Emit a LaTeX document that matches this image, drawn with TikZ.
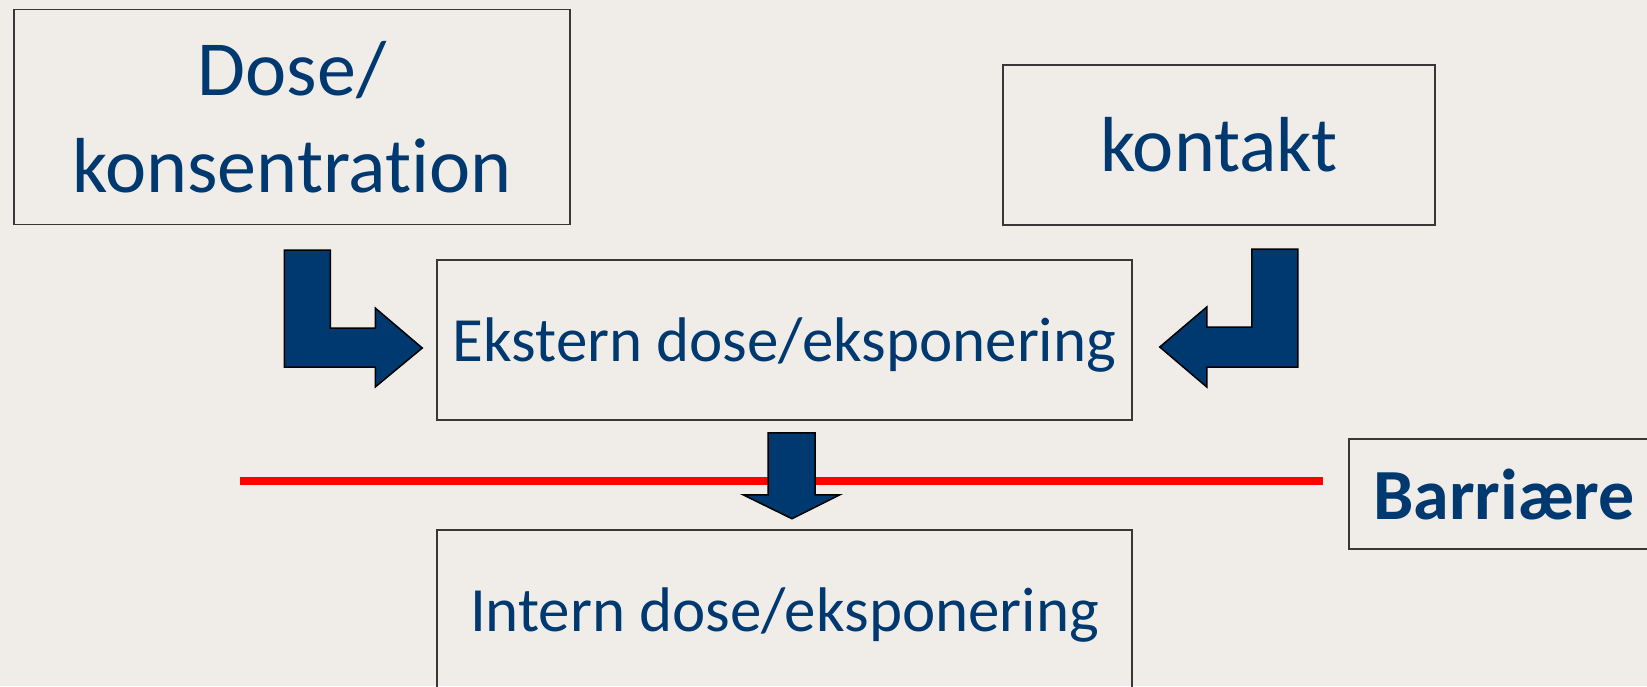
\documentclass[tikz,border=0pt]{standalone}
\usepackage{fontspec}
\setmainfont{Carlito}[Ligatures=NoCommon]
\usetikzlibrary{calc}
\definecolor{dkblue}{RGB}{0,56,112}
\definecolor{paper}{RGB}{240,237,232}
\definecolor{frame}{RGB}{55,55,55}
\tikzstyle{box} = [rectangle, draw=frame, line width=1.5pt, text=dkblue, align=center, inner sep=0pt]
\tikzstyle{blockarrow} = [fill=dkblue, draw=black, line width=1.5pt, line join=miter]
\tikzstyle{barrier} = [draw=red, line width=8.5pt]

\begin{document}
\begin{tikzpicture}[x=1pt, y=-1pt]
			\useasboundingbox (0,0) rectangle (1647,686);
			\clip (0,0) rectangle (1647,686);
			\fill[paper] (0,0) rectangle (1647,686);
			\node (dose) [box, minimum width=556pt, minimum height=215pt, font=\fontsize{78}{97}\selectfont] at (292,117) {Dose/\\konsentration};
			\node (kontakt) [box, minimum width=432pt, minimum height=160pt, font=\fontsize{78}{94}\selectfont] at (1219,145) {kontakt};
			\node (ext) [box, minimum width=695pt, minimum height=160pt, text depth=0pt, font=\fontsize{63}{76}\selectfont] at (784.5,340) {Ekstern dose/eksponering};
			\node (int) [box, minimum width=695pt, minimum height=160pt, text depth=0pt, font=\fontsize{63}{76}\selectfont] at (784.5,610) {Intern dose/eksponering};
			\node (barr) [box, minimum width=310pt, minimum height=110pt, font=\fontsize{72}{86}\selectfont\bfseries] at (1504,494) {Barriære};
			% barrier line
			\coordinate (lineL) at (240,481);
			\coordinate (lineR) at ($(barr.west)+(-25,-13)$);
			\draw [barrier] (lineL) -- (lineR);
			% arrows
			\coordinate (ltip) at ($(ext.west)+(-14,8)$);
			\coordinate (rtip) at ($(ext.east)+(27,7)$);
			\coordinate (dtop) at ($(ext.south)+(-16.5,12)$);
			\draw [blockarrow] (ltip) -- ++(-47,-40) -- ++(0,20) -- ++(-45,0) -- ++(0,-78) -- ++(-46,0) -- ++(0,117) -- ++(91,0) -- ++(0,20) -- cycle;
			\draw [blockarrow] (rtip) -- ++(47,-40) -- ++(0,20) -- ++(45,0) -- ++(0,-78) -- ++(46,0) -- ++(0,118) -- ++(-91,0) -- ++(0,20) -- cycle;
			\draw [blockarrow] (dtop) -- ++(47,0) -- ++(0,62) -- ++(25,0) -- ++(-48,24) -- ++(-49,-24) -- ++(25,0) -- cycle;
		\end{tikzpicture}
\end{document}
